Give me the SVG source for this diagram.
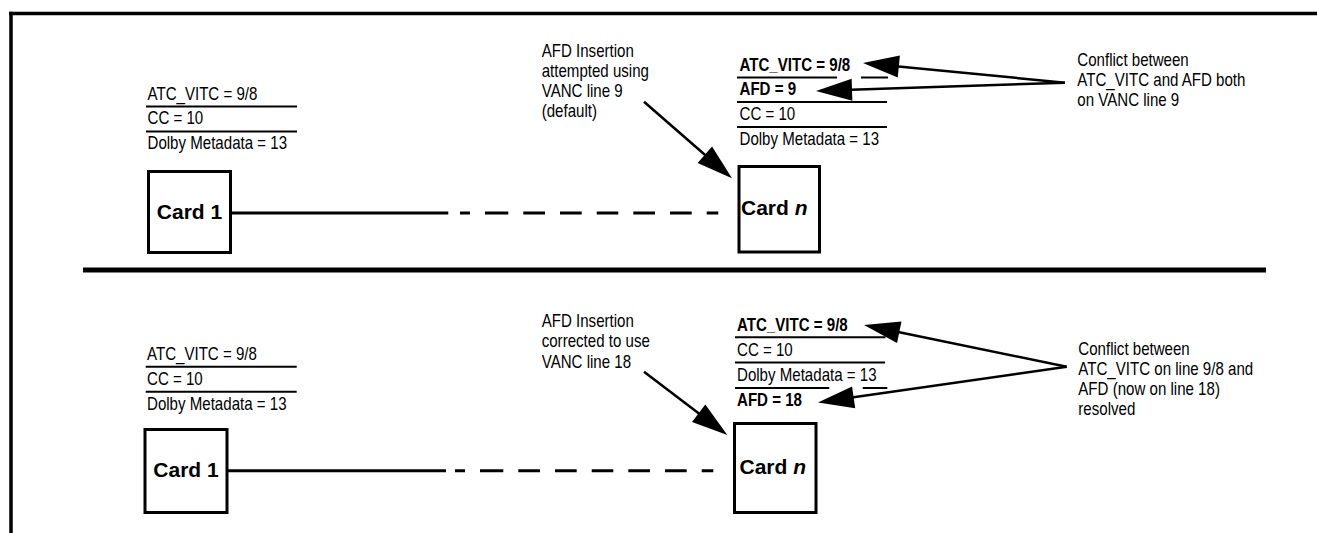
<svg xmlns="http://www.w3.org/2000/svg" width="1317" height="533" viewBox="0 0 1317 533">
<style>
.t{font-family:"Liberation Sans",Arial,Helvetica,sans-serif;font-size:18.4px;fill:#000}
.b{font-weight:bold}
.card{font-family:"Liberation Sans",Arial,Helvetica,sans-serif;font-size:21px;font-weight:bold;fill:#000}
.box{fill:#fff;stroke:#000;stroke-width:3}
.ul{stroke:#000;stroke-width:2;fill:none}
.frame{stroke:#000;stroke-width:3.5;fill:none}
.div{stroke:#000;stroke-width:5;fill:none}
.wire{stroke:#000;stroke-width:3;fill:none}
.arr{stroke:#000;stroke-width:2.5;fill:none;marker-end:url(#ah)}
</style>
<defs>
<marker id="ah" markerUnits="userSpaceOnUse" markerWidth="36" markerHeight="22" refX="16" refY="11" orient="auto" overflow="visible">
<path d="M0,0 L36,11 L0,22 Z" fill="#000"/>
</marker>
</defs>
<rect x="0" y="0" width="1317" height="533" fill="#fff"/>

<g id="frame">
<line class="frame" x1="9" y1="13.5" x2="1317" y2="13.5"/>
<line class="frame" x1="11" y1="11.75" x2="11" y2="533"/>
<line class="div" x1="83" y1="270" x2="1266" y2="270"/>
</g>

<!-- TOP SECTION -->
<g id="top-card1">
<rect class="box" x="148.5" y="171.5" width="82" height="81"/>
<text class="card" x="189.5" y="219" text-anchor="middle">Card 1</text>
</g>
<g id="top-card1-list">
<text class="t" transform="translate(147.5 99.5) scale(0.82 1)"><tspan x="0" y="0">ATC_VITC = 9/8</tspan><tspan x="0" y="25">CC = 10</tspan><tspan x="0" y="50">Dolby Metadata = 13</tspan></text>
<line class="ul" x1="146" y1="106.5" x2="297" y2="106.5"/>
<line class="ul" x1="146" y1="131.5" x2="297" y2="131.5"/>
</g>
<g id="top-cardn">
<rect class="box" x="739" y="166.5" width="80.5" height="85.5"/>
<text class="card" x="741" y="215">Card <tspan font-style="italic">n</tspan></text>
</g>
<g id="top-cardn-list">
<text class="t b" transform="translate(739.5 70.5) scale(0.82 1)"><tspan x="0" y="0">ATC_VITC = 9/8</tspan><tspan x="0" y="25">AFD = 9</tspan></text>
<text class="t" transform="translate(739.5 120) scale(0.82 1)"><tspan x="0" y="0">CC = 10</tspan><tspan x="0" y="25">Dolby Metadata = 13</tspan></text>
<line class="ul" x1="737" y1="77.5" x2="837" y2="77.5"/>
<line class="ul" x1="861" y1="77.5" x2="888" y2="77.5"/>
<line class="ul" x1="737" y1="102" x2="887" y2="102"/>
<line class="ul" x1="737" y1="127" x2="887" y2="127"/>
</g>
<g id="top-note-left">
<text class="t" transform="translate(541.7 57) scale(0.82 1)"><tspan x="0" y="0">AFD Insertion</tspan><tspan x="0" y="20">attempted using</tspan><tspan x="0" y="40">VANC line 9</tspan><tspan x="0" y="60">(default)</tspan></text>
</g>
<g id="top-note-right">
<text class="t" transform="translate(1077.3 66) scale(0.82 1)"><tspan x="0" y="0">Conflict between</tspan><tspan x="0" y="20">ATC_VITC and AFD both</tspan><tspan x="0" y="40">on VANC line 9</tspan></text>
</g>

<!-- BOTTOM SECTION -->
<g id="bot-card1">
<rect class="box" x="145" y="429.5" width="82" height="83"/>
<text class="card" x="186" y="477" text-anchor="middle">Card 1</text>
</g>
<g id="bot-card1-list">
<text class="t" transform="translate(147 359.7) scale(0.82 1)"><tspan x="0" y="0">ATC_VITC = 9/8</tspan><tspan x="0" y="25">CC = 10</tspan><tspan x="0" y="50">Dolby Metadata = 13</tspan></text>
<line class="ul" x1="145.7" y1="366.7" x2="296.7" y2="366.7"/>
<line class="ul" x1="145.7" y1="391.7" x2="296.7" y2="391.7"/>
</g>
<g id="bot-cardn">
<rect class="box" x="734.5" y="423.5" width="81.5" height="89"/>
<text class="card" x="739.5" y="474">Card <tspan font-style="italic">n</tspan></text>
</g>
<g id="bot-cardn-list">
<text class="t b" transform="translate(737 330.5) scale(0.82 1)">ATC_VITC = 9/8</text>
<text class="t" transform="translate(737 355.7) scale(0.82 1)"><tspan x="0" y="0">CC = 10</tspan><tspan x="0" y="25">Dolby Metadata = 13</tspan></text>
<text class="t b" transform="translate(737 405.7) scale(0.82 1)">AFD = 18</text>
<line class="ul" x1="735" y1="337.3" x2="885.5" y2="337.3"/>
<line class="ul" x1="735" y1="362.5" x2="885" y2="362.5"/>
<line class="ul" x1="735" y1="388" x2="829.3" y2="388"/>
<line class="ul" x1="862.7" y1="388" x2="887.3" y2="388"/>
</g>
<g id="bot-note-left">
<text class="t" transform="translate(541.7 327) scale(0.82 1)"><tspan x="0" y="0">AFD Insertion</tspan><tspan x="0" y="20.5">corrected to use</tspan><tspan x="0" y="41">VANC line 18</tspan></text>
</g>
<g id="bot-note-right">
<text class="t" transform="translate(1078.3 355) scale(0.82 1)"><tspan x="0" y="0">Conflict between</tspan><tspan x="0" y="20">ATC_VITC on line 9/8 and</tspan><tspan x="0" y="40">AFD (now on line 18)</tspan><tspan x="0" y="60">resolved</tspan></text>
</g>

<g id="connectors">
<line class="wire" x1="232" y1="213" x2="448.3" y2="213"/>
<path class="wire" d="M460 213H470M485 213H508.3M523.3 213H545M560 213H581.7M596.7 213H618.3M633.3 213H655M670 213H691.7M706.7 213H718.3"/>
<line class="wire" x1="228" y1="470.7" x2="446" y2="470.7"/>
<path class="wire" d="M455 470.7H465M480 470.7H503.3M518.3 470.7H540M555 470.7H576.7M591.7 470.7H613.3M628.3 470.7H650M665 470.7H686.7M701.7 470.7H713.3"/>
<line class="arr" x1="644" y1="101.7" x2="716.9" y2="165.2"/>
<line class="arr" x1="1065" y1="82.7" x2="882.9" y2="64.9"/>
<line class="arr" x1="1065" y1="82.7" x2="836" y2="90.3"/>
<line class="arr" x1="644" y1="371.7" x2="711.4" y2="422.9"/>
<line class="arr" x1="1066.7" y1="366.7" x2="883.6" y2="329"/>
<line class="arr" x1="1066.7" y1="366.7" x2="837.8" y2="399.6"/>
</g>
</svg>
